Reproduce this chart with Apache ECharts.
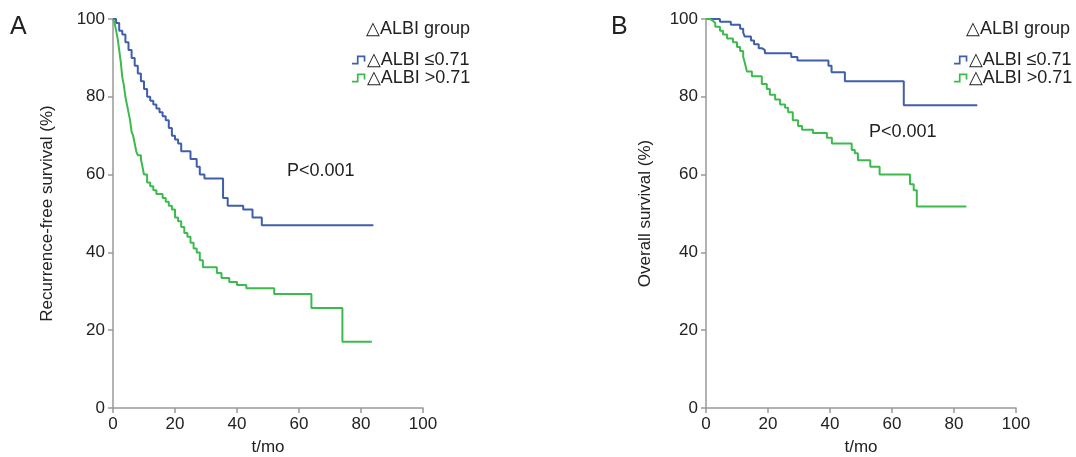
<!DOCTYPE html>
<html>
<head>
<meta charset="utf-8">
<script src="https://cdn.jsdelivr.net/npm/echarts@6/dist/echarts.min.js"></script>
<style>
  html, body { margin: 0; padding: 0; background: #fff; }
  #chart { width: 1076px; height: 457px; }
</style>
</head>
<body>
<div id="chart"></div>
<script>
// A: recurrence-free survival, [month, %]
const rfsLow = [
    [0, 100], [1, 99], [2, 97], [3, 96], [4, 94], [5, 92], [6, 90], [7, 88], [8, 86],
    [9, 84], [10, 82], [11, 80], [12, 79], [13, 78], [14, 77], [15, 76], [16, 75],
    [17, 74], [18, 72], [19, 70], [20, 69], [21, 68], [22, 66], [25, 64], [27, 62],
    [28, 60], [29.5, 59], [35.5, 54], [37, 52], [42, 51], [45, 49], [48, 47], [84, 47]
];
const rfsHigh = [
    [0, 100], [0.5, 99], [1, 97], [1.5, 95], [2, 92], [2.5, 89], [3, 85], [3.5, 83],
    [4, 80], [4.5, 78], [5, 76], [5.5, 74], [6, 71], [6.5, 70], [7, 68], [7.5, 66],
    [8, 65], [9, 64], [9.5, 62], [10, 60], [11, 58], [12, 57], [13, 56], [14, 55],
    [16, 54], [17, 53], [18, 52], [19, 51], [20, 49], [21, 48], [22, 46.5], [23, 45],
    [24, 44], [25, 42.5], [26, 41], [27, 40], [28, 38], [29, 36.2], [33.5, 34.7],
    [35, 33.4], [37.5, 32.4], [40, 31.6], [43, 30.8], [52, 29.3], [64, 25.7],
    [74, 17], [83.5, 17]
];
// B: overall survival, [month, %]
const osLow = [
    [0, 100], [4.5, 99.3], [8, 98.5], [11, 97.5], [12, 96.5], [12.5, 95.5], [14.5, 94.5],
    [15.5, 93.5], [17, 92.5], [18, 92], [19, 91.2], [27.5, 90.2], [29.5, 89.3],
    [39.5, 88], [40.5, 86.3], [44.8, 84], [63.8, 77.8], [87.5, 77.8]
];
const osHigh = [
    [0, 100], [1.3, 99.5], [2.3, 99], [3, 98], [4.5, 97], [5.5, 96], [6.8, 95],
    [8.7, 94], [10, 92.8], [11, 91.8], [12, 90.3], [12.6, 88.5], [13.2, 86.5],
    [14.8, 85.3], [18, 83.3], [19.6, 82], [20.6, 80.5], [22.3, 79.3], [23.9, 78],
    [25.5, 77.2], [26.5, 76], [28, 74], [29.7, 72.5], [31, 71.5], [34.5, 70.7],
    [39, 69.5], [40.6, 68], [47, 66.3], [48, 65.5], [49, 63.7], [53, 62], [56, 60],
    [65.8, 57.5], [67, 56], [68, 51.8], [84, 51.8]
];
const groupNames = ['△ALBI ≤0.71', '△ALBI >0.71'];
const axisTicks = [0, 20, 40, 60, 80, 100];

const BLUE = '#3f5eac';
const GREEN = '#3dba4e';
const FONT = 'Liberation Sans, Arial, sans-serif';
const stepIcon = 'path://M0,6 L4,6 L4,0 L11,0 L11,5 L9.6,5 L9.6,1.4 L5.4,1.4 L5.4,7.4 L0,7.4 Z';

const chart = echarts.init(document.getElementById('chart'));

function xAxis(idx) {
    return {
        gridIndex: idx, type: 'value', min: axisTicks[0], max: axisTicks[axisTicks.length - 1], interval: 20,
        name: 't/mo', nameLocation: 'middle', nameGap: 31,
        nameTextStyle: { fontSize: 17, color: '#222', fontFamily: FONT },
        axisLine: { lineStyle: { color: '#999', width: 1.5 } },
        axisTick: { inside: false, length: 5, lineStyle: { color: '#999', width: 1.5 } },
        axisLabel: { fontSize: 17, color: '#222', fontFamily: FONT, margin: 8 },
        splitLine: { show: false }
    };
}
function yAxis(idx, name, gap) {
    return {
        gridIndex: idx, type: 'value', min: 0, max: 100, interval: 20,
        name: name, nameLocation: 'middle', nameGap: gap,
        nameTextStyle: { fontSize: 17, color: '#222', fontFamily: FONT },
        axisLine: { lineStyle: { color: '#999', width: 1.5 } },
        axisTick: { inside: false, length: 5, lineStyle: { color: '#999', width: 1.5 } },
        axisLabel: { fontSize: 17, color: '#222', fontFamily: FONT, margin: 8 },
        splitLine: { show: false }
    };
}
function km(name, data, idx, color) {
    return {
        name: name, type: 'line', step: 'end', data: data,
        xAxisIndex: idx, yAxisIndex: idx,
        symbol: 'none', color: color,
        lineStyle: { width: 2, color: color }
    };
}
function legend(left) {
    return {
        orient: 'vertical', left: left, top: 46, itemWidth: 14, itemHeight: 9, itemGap: 0,
        icon: stepIcon, selectedMode: false,
        textStyle: { fontSize: 18, color: '#222', fontFamily: FONT, padding: [0, 0, 0, -4] },
        data: groupNames
    };
}
function txt(x, y, s, size) {
    return { type: 'text', left: x, top: y, style: { text: s, fontSize: size, fill: '#222', fontFamily: FONT } };
}

chart.setOption({
    animation: false,
    grid: [
        { left: 113, top: 19, width: 310, height: 389, outerBoundsMode: 'none' },
        { left: 706, top: 19, width: 310, height: 389, outerBoundsMode: 'none' }
    ],
    xAxis: [xAxis(0), xAxis(1)],
    yAxis: [yAxis(0, 'Recurrence-free survival (%)', 57), yAxis(1, 'Overall survival (%)', 52)],
    legend: [legend(347), legend(949)],
    series: [
        km(groupNames[0], rfsLow, 0, BLUE),
        km(groupNames[1], rfsHigh, 0, GREEN),
        km(groupNames[0], osLow, 1, BLUE),
        km(groupNames[1], osHigh, 1, GREEN)
    ],
    graphic: [
        txt(10, 15, 'A', 25),
        txt(611, 15, 'B', 25),
        txt(366, 20, '△ALBI group', 18),
        txt(966, 20, '△ALBI group', 18),
        txt(287, 162, 'P<0.001', 18),
        txt(869, 123, 'P<0.001', 18)
    ]
});
</script>
</body>
</html>
